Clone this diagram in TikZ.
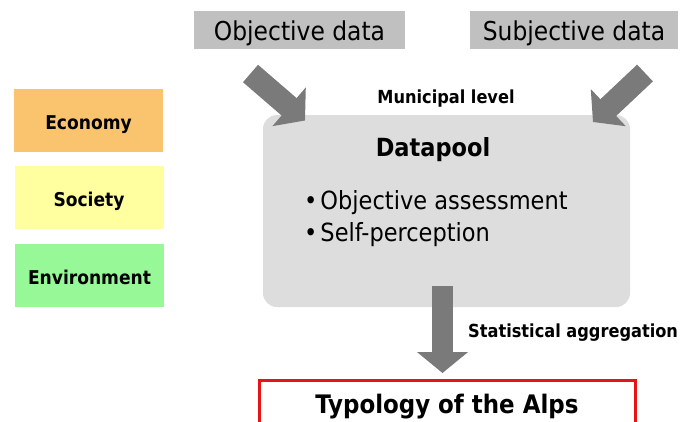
\documentclass[tikz,border=0pt]{standalone}
\usepackage{fontspec}
\setmainfont{DejaVu Sans Condensed}
\usetikzlibrary{arrows.meta}
\definecolor{econ}{RGB}{250,196,110}
\definecolor{soc}{RGB}{255,255,160}
\definecolor{env}{RGB}{150,248,150}
\definecolor{srcgray}{RGB}{192,192,192}
\definecolor{poolgray}{RGB}{221,221,221}
\definecolor{arrgray}{RGB}{122,122,122}
\definecolor{typred}{RGB}{230,20,20}
\tikzset{
  dimbox/.style={fill=#1, draw=none, minimum width=149pt, minimum height=63pt, inner sep=0pt, text height=18pt, text depth=0pt, font=\fontsize{19}{22}\selectfont\bfseries},
  srcbox/.style={fill=srcgray, draw=none, minimum height=38pt, inner sep=0pt, text height=22pt, text depth=0pt, font=\fontsize{26}{30}\selectfont},
  bigarrow/.style={draw=arrgray, line width=23pt, -{Triangle[width=50pt,length=21pt]}},
  boldlabel/.style={font=\fontsize{#1}{#1}\selectfont\bfseries, inner sep=0pt},
  plainlabel/.style={font=\fontsize{25}{28}\selectfont, inner sep=0pt}
}
\begin{document}
\begin{tikzpicture}[x=1pt,y=-1pt]
\useasboundingbox (0,0) rectangle (683,421);
\fill[white] (0,0) rectangle (683,421);
% dimension boxes
\node[dimbox=econ] (econ) at (88.5,120) {Economy};
\node[dimbox=soc] (soc) at (89,197.5) {Society};
\node[dimbox=env] (env) at (89.5,275.5) {Environment};
% source boxes
\node[srcbox, minimum width=211pt] (obj) at (299.5,29.5) {Objective data};
\node[srcbox, minimum width=208pt] (subj) at (574,29.5) {Subjective data};
% datapool
\node[fill=poolgray, draw=none, rounded corners=14pt, minimum width=367pt, minimum height=192pt, inner sep=0pt] (pool) at (446.5,211) {};
\node[boldlabel=25] (dp) at (433,150) {Datapool};
\node[plainlabel, anchor=west] (b1) at (304,203) {\textbullet\hspace{3pt}Objective assessment};
\node[plainlabel, anchor=west] (b2) at (304,235) {\textbullet\hspace{3pt}Self-perception};
\node[boldlabel=18] (mun) at (446,99) {Municipal level};
% typology
\node[draw=typred, line width=3pt, fill=white, minimum width=376pt, minimum height=60pt, inner sep=0pt, anchor=north] (typ) at (447.5,379) {};
\node[boldlabel=25.5] (typlabel) at (447,407) {Typology of the Alps};
\node[boldlabel=18, anchor=west] (stat) at (468,333) {Statistical aggregation};
% arrows
\coordinate (objtail) at (250.5,73.5);
\coordinate (objtip) at (305,120.5);
\coordinate (subjtail) at (645,73);
\coordinate (subjtip) at (593,122);
\coordinate (pooltail) at (442.5,286);
\coordinate (typtip) at (442.5,373);
\draw[bigarrow] (objtail) -- (objtip);
\draw[bigarrow] (subjtail) -- (subjtip);
\draw[bigarrow, line width=21pt] (pooltail) -- (typtip);
\end{tikzpicture}
\end{document}
